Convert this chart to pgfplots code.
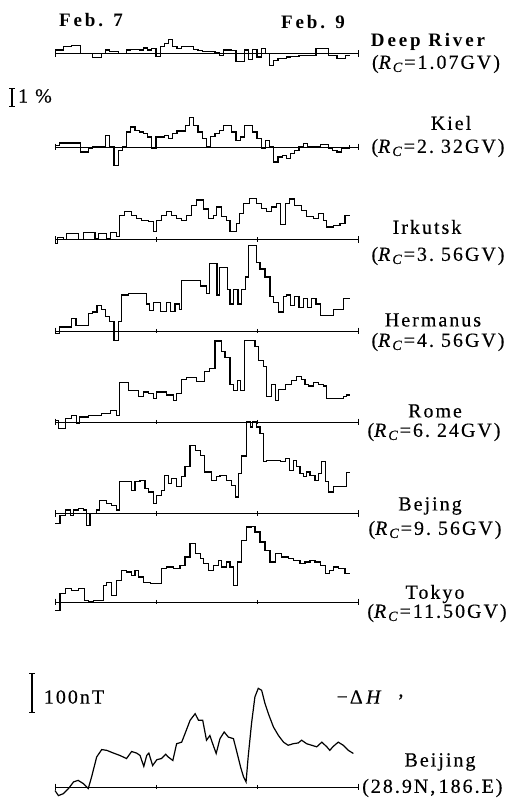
\documentclass[border=0pt]{standalone}
\usepackage{pgfplots}
\pgfplotsset{compat=1.18}
\usepackage{fontspec}
\setmainfont{Liberation Serif}
\newfontfamily\lbl[LetterSpace=10, FakeBold=0.3]{Liberation Serif}
\newfontfamily\lblb[LetterSpace=15]{Liberation Serif}
\newcommand\Rc[1]{(\textit{R}\textsubscript{\textit{C}}=#1GV)}
\begin{document}
\begin{tikzpicture}[x=1pt,y=1pt]
\useasboundingbox (0pt,-802pt) rectangle (515pt,0pt);
\pgfplotsset{
  stn/.style={x=4.2083pt, y=18pt, xmin=0, xmax=72, ymin=-1, ymax=1, axis lines=none, clip=false, anchor=south west},
  crv/.style={black, line width=1.2pt, const plot, mark=none},
  base/.style={black, line width=0.65pt, mark=none},
  tk/.style={black, only marks, mark=|, mark size=3.4pt, mark options={line width=0.8pt}},
  tks/.style={black, only marks, mark=|, mark size=2.2pt, mark options={line width=0.8pt}},
  sbar/.style={black, line width=1.2pt, mark=-, mark size=2.6pt, mark options={line width=1pt}}
}
% ---------- Deep River ----------
\begin{axis}[stn, at={(55pt,-71.5pt)}]
\addplot[base] coordinates {(0,0)(72,0)};
\addplot[tk] coordinates {(0,0)(72,0)};
\addplot[crv] coordinates {(0,0.19)(2,0.37)(4,0.46)(6,0)(9,-0.22)(11,0)(12,0.19)(13,0.09)(15,0)(17,0.19)(18,0.22)(20,0.19)(21,0.31)(22,0.19)(23,0.28)(24,-0.15)(25,0.37)(26,0.56)(27,0.78)(28,0.37)(29,0.28)(30,0.41)(31,0.37)(33,0.22)(34,0.15)(35,0.09)(38,0.04)(39,-0.09)(40,0.19)(42,0.15)(43,-0.46)(45,0.19)(46,-0.33)(47,0.22)(48,-0.19)(49,0.28)(50,0)(51,-0.65)(52,-0.37)(53,-0.28)(55,-0.19)(56,-0.15)(58,-0.09)(62,0.28)(65,-0.09)(67,-0.28)(69,-0.09)(70,-0.09)};
% 1 % scale bar
\addplot[sbar] coordinates {(-10.2,-2.97)(-10.2,-1.97)};
\end{axis}
% ---------- Kiel ----------
\begin{axis}[stn, at={(55pt,-165pt)}]
\addplot[base] coordinates {(0,0)(72,0)};
\addplot[tk] coordinates {(0,0)(72,0)};
\addplot[crv] coordinates {(0,0.1)(1,0.22)(3,0.22)(6,-0.28)(8,-0.09)(9,0)(12,0.65)(13,0)(14,-1.02)(15,-0.19)(16,0)(17,0.83)(18,1.11)(19,0.93)(20,0.83)(21,0.74)(22,0.56)(23,-0.09)(24,0.56)(26,0.65)(27,0.46)(28,0.74)(29,0.89)(31,1.2)(32,1.63)(33,1.2)(34,0.83)(35,0.46)(36,0)(37,0.59)(38,0.74)(39,0.93)(40,1.2)(42,0.83)(43,0.37)(44,0.56)(45,1.2)(47,0.83)(48,0.46)(49,-0.09)(50,0.37)(51,0)(52,-0.83)(53,-0.56)(54,-0.46)(55,-0.65)(56,-0.37)(57,-0.19)(58,0)(59,0.19)(60,0.04)(62,0)(63,0.15)(65,-0.09)(66,-0.19)(67,-0.28)(68,-0.09)(70,0.09)};
\end{axis}
% ---------- Irkutsk ----------
\begin{axis}[stn, at={(55pt,-257.5pt)}]
\addplot[base] coordinates {(0,0)(72,0)};
\addplot[tk] coordinates {(0,0)(72,0)};
\addplot[tks] coordinates {(24,0)(48,0)};
\addplot[crv] coordinates {(0,-0.22)(0.6,0.11)(2,0)(2.8,0.33)(5.5,0)(6.7,0.37)(9.5,0.05)(10.3,0.33)(12.3,0.05)(13.1,0.37)(14.7,0.15)(15.4,1.35)(16.6,1.54)(18.2,1.35)(19.4,1.17)(20.6,1.07)(22.2,0.98)(23.4,0.43)(24.2,1.07)(25.3,1.35)(26.5,1.54)(27.7,1.35)(28.9,1.17)(30.1,1.07)(31.3,1.35)(32.5,1.9)(33.7,2.2)(35.2,1.7)(36.4,1.17)(37.6,1.35)(38.4,1.81)(39.6,1.26)(40.8,1.07)(41.6,0.43)(43.2,0.89)(43.9,1.44)(44.8,2.0)(46.3,2.3)(47.9,2.0)(49.1,1.72)(50.3,1.54)(51.5,1.81)(52.7,2.0)(53.5,0.85)(54.7,2.0)(55.8,2.25)(57,1.9)(58.6,1.63)(59.8,1.26)(61.4,1.17)(62.6,1.44)(63.8,1.07)(64.6,0.7)(66.1,0.8)(67.7,0.89)(68.9,1.35)(70,1.35)};
\end{axis}
% ---------- Hermanus ----------
\begin{axis}[stn, at={(55pt,-349pt)}]
\addplot[base] coordinates {(0,0)(72,0)};
\addplot[tk] coordinates {(0,0)(72,0)};
\addplot[tks] coordinates {(24,0)(48,0)};
\addplot[crv] coordinates {(0,-0.15)(1,0.22)(4,0.69)(5,0.31)(8,0.96)(9,1.06)(10,1.43)(11,1.2)(12,0.8)(13,0.55)(14,-0.52)(15,0.55)(15.8,2.0)(17.4,2.1)(21.8,1.5)(22.5,1.15)(23.5,1.6)(25,1.1)(26.5,1.6)(27.5,1.1)(28.5,1.5)(29.5,1.2)(30.1,2.8)(34.5,2.5)(36,2.1)(36.8,3.75)(38.5,2.0)(39,3.55)(41,2.3)(41.6,1.5)(42.4,2.3)(43.5,1.5)(44.3,2.3)(45.2,3.0)(46,4.75)(47.9,3.8)(48.7,3.45)(49.9,3.0)(51.1,1.9)(52,1.6)(53.1,1.06)(54.3,1.9)(55,2.0)(56,1.4)(57,1.9)(58,1.3)(59,1.8)(60,1.3)(61,1.8)(62,1.5)(63,0.87)(66.1,1.2)(68.5,1.8)(70,1.8)};
\end{axis}
% ---------- Rome ----------
\begin{axis}[stn, at={(55pt,-440pt)}]
\addplot[base] coordinates {(0,0)(72,0)};
\addplot[tk] coordinates {(0,0)(72,0)};
\addplot[tks] coordinates {(24,0)(48,0)};
\addplot[crv] coordinates {(0,0.1)(0.8,-0.37)(2.4,0.19)(4,0.37)(5.1,-0.09)(5.9,0.28)(7.9,0.37)(11.1,0.46)(13.1,0.65)(14.7,0.37)(15.4,2.2)(17.4,1.76)(19.8,1.4)(21,1.67)(22.2,1.6)(23.4,1.3)(24.2,1.67)(26.5,1.5)(28.1,1.2)(28.9,1.6)(30.1,2.35)(31.3,2.46)(33.7,2.26)(35.6,2.8)(36.8,2.98)(38,4.5)(39.6,3.9)(40.4,3.6)(41.6,2.1)(42.4,1.76)(43.3,2.3)(44.1,1.76)(45.1,4.54)(47.5,4.2)(48.3,3.4)(49.5,3.1)(50.3,1.4)(51.5,2.1)(52.3,1.2)(53.1,1.8)(54.7,2.1)(56.2,2.3)(57.4,2.55)(58.6,2.35)(59.4,2.1)(60.2,2.0)(61.4,2.2)(62.6,2.1)(63.8,2.0)(64.6,1.3)(68.5,1.4)(69.3,1.5)(70.1,1.5)};
\end{axis}
% ---------- Bejing ----------
\begin{axis}[stn, at={(55pt,-531.5pt)}]
\addplot[base] coordinates {(0,0)(72,0)};
\addplot[tk] coordinates {(0,0)(72,0)};
\addplot[tks] coordinates {(24,0)(48,0)};
\addplot[crv] coordinates {(0,-0.56)(1.2,-0.1)(2.4,0.19)(3.6,-0.1)(4.4,0.19)(5.5,0.28)(6.7,0.19)(7.5,-0.65)(8.3,0)(9.9,0.19)(10.5,0.74)(12.3,0.55)(13.5,0.46)(14.7,0.2)(15.4,1.76)(18.2,1.3)(19,1.76)(20.2,1.85)(21.4,1.4)(22.2,1.2)(23.4,0.55)(24.2,1.0)(25.3,1.3)(26.1,2.1)(26.9,1.67)(27.7,1.95)(28.9,1.48)(30.1,2.04)(30.9,2.59)(32.1,3.8)(33.3,3.52)(34.5,3.24)(35.6,2.31)(37.2,1.85)(38.4,2.04)(39.2,2.13)(40.8,1.85)(42,1.57)(42.8,0.92)(43.6,2.22)(44.4,3.2)(45.5,5.09)(46.5,4.81)(47,5.09)(47.9,4.81)(48.7,4.44)(49.5,2.87)(50.3,2.96)(53.5,2.87)(54.7,3.05)(55.8,2.4)(56.6,2.96)(57.4,2.59)(58.2,2.22)(59,2.04)(59.8,2.31)(60.6,2.13)(61.8,1.85)(62.6,2.22)(63.4,2.87)(64.2,1.76)(65,1.2)(66.1,1.48)(69.3,2.3)(70.1,2.3)};
\end{axis}
% ---------- Tokyo ----------
\begin{axis}[stn, at={(55pt,-620pt)}]
\addplot[base] coordinates {(0,0)(72,0)};
\addplot[tk] coordinates {(0,0)(72,0)};
\addplot[tks] coordinates {(24,0)(48,0)};
\addplot[crv] coordinates {(0,-0.45)(1.2,0.46)(2.4,0.74)(4,0.65)(5.5,0.74)(7.1,0.09)(7.9,0)(9.1,0.09)(10.3,0.09)(11.5,0.93)(12.3,1.1)(13.5,0.37)(14.7,1.2)(15.8,1.76)(17,1.67)(18.2,1.48)(19,1.76)(19.8,1.39)(21,1.1)(22.6,1.05)(25.3,1.85)(26.5,1.94)(28.1,1.85)(29.7,2.03)(30.9,2.5)(32.1,3.24)(33.3,2.68)(34.5,2.41)(35.2,2.13)(36.4,1.76)(37.6,2.03)(38.8,2.31)(39.6,1.94)(40.8,2.22)(41.6,1.94)(42.4,0.93)(43.3,2.22)(44.4,3.43)(45.5,4.17)(46.7,4.2)(47.5,3.89)(48.7,3.33)(49.9,2.87)(51.1,2.22)(52.3,2.68)(53.9,2.5)(55.4,2.41)(56.6,2.31)(58.2,2.13)(59.4,2.22)(60.6,2.31)(61.8,2.22)(63,2.03)(64.2,1.57)(65.3,1.76)(66.1,1.94)(67.3,1.85)(68.9,1.57)(70.1,1.57)};
\end{axis}
% ---------- Beijing Delta H (nT) ----------
\begin{axis}[x=4.2083pt, y=0.39pt, xmin=0, xmax=72, ymin=-100, ymax=100, axis lines=none, clip=false, anchor=south west, at={(55pt,-826pt)}]
\addplot[base] coordinates {(0,0)(72,0)};
\addplot[tk] coordinates {(0,0)(72,0)};
\addplot[tks] coordinates {(24,0)(48,0)};
\addplot[black, line width=1.2pt, mark=none] coordinates {(0,-9)(0.8,-22)(2.0,-17)(3.2,-4)(4.4,13)(5.5,17)(6.7,9)(7.9,-4)(8.7,26)(9.9,77)(11.1,96)(12.3,94)(13.9,87)(15.4,81)(17.0,73)(18.2,91)(19.4,87)(20.2,81)(21.1,53)(21.8,81)(22.3,87)(23.2,55)(24.2,70)(25.3,73)(26.3,84)(26.9,77)(28.0,68)(28.9,111)(30.1,115)(30.9,137)(32.1,171)(33.3,188)(34.1,171)(35.1,171)(36.0,120)(36.8,132)(37.6,107)(38.3,86)(39.2,124)(40.2,141)(41.2,128)(42.4,124)(43.3,86)(44.1,51)(44.8,26)(45.4,13)(45.9,77)(46.7,163)(47.5,231)(48.3,253)(49.1,248)(49.9,214)(50.7,188)(51.9,154)(53.1,132)(54.3,115)(55.4,107)(56.6,111)(57.8,113)(58.6,120)(59.8,111)(61.0,107)(62.2,103)(63.4,115)(64.6,103)(65.3,94)(66.1,104)(67.3,115)(68.5,107)(69.7,94)(70.9,86)};
% 100 nT scale bar
\addplot[sbar] coordinates {(-5.47,190)(-5.47,290)};
\end{axis}
% ---------- texts ----------
\begin{scope}[every node/.style={font=\lbl\fontsize{20}{23}\selectfont, inner sep=0pt}]
\node[font=\lblb\fontsize{19}{22}\selectfont\bfseries] at (91pt,-20pt) {Feb. 7};
\node[font=\lblb\fontsize{19}{22}\selectfont\bfseries] at (313pt,-22pt) {Feb. 9};
\node[font=\lblb\fontsize{19}{22}\selectfont\bfseries] at (428pt,-42pt) {Deep River};
\node at (436pt,-64pt) {\Rc{1.07}};
\node at (35pt,-96pt) {1\ \%};
\node at (451pt,-123pt) {Kiel};
\node at (438pt,-148pt) {\Rc{2.\ 32}};
\node at (427pt,-227pt) {Irkutsk};
\node at (438pt,-256pt) {\Rc{3.\ 56}};
\node at (433pt,-320pt) {Hermanus};
\node at (438pt,-342pt) {\Rc{4.\ 56}};
\node at (435pt,-411pt) {Rome};
\node at (434pt,-432pt) {\Rc{6.\ 24}};
\node at (430pt,-506pt) {Bejing};
\node at (435pt,-530pt) {\Rc{9.\ 56}};
\node at (435pt,-594pt) {Tokyo};
\node at (437pt,-613pt) {\Rc{11.50}};
\node at (74pt,-697pt) {100nT};
\node at (360pt,-697pt) {−Δ\,\textit{H}};
\node at (401pt,-697pt) {,};
\node at (440pt,-762pt) {Beijing};
\node[anchor=west] at (362pt,-788pt) {(28.9N,\,186.E)};
\end{scope}
\end{tikzpicture}
\end{document}
